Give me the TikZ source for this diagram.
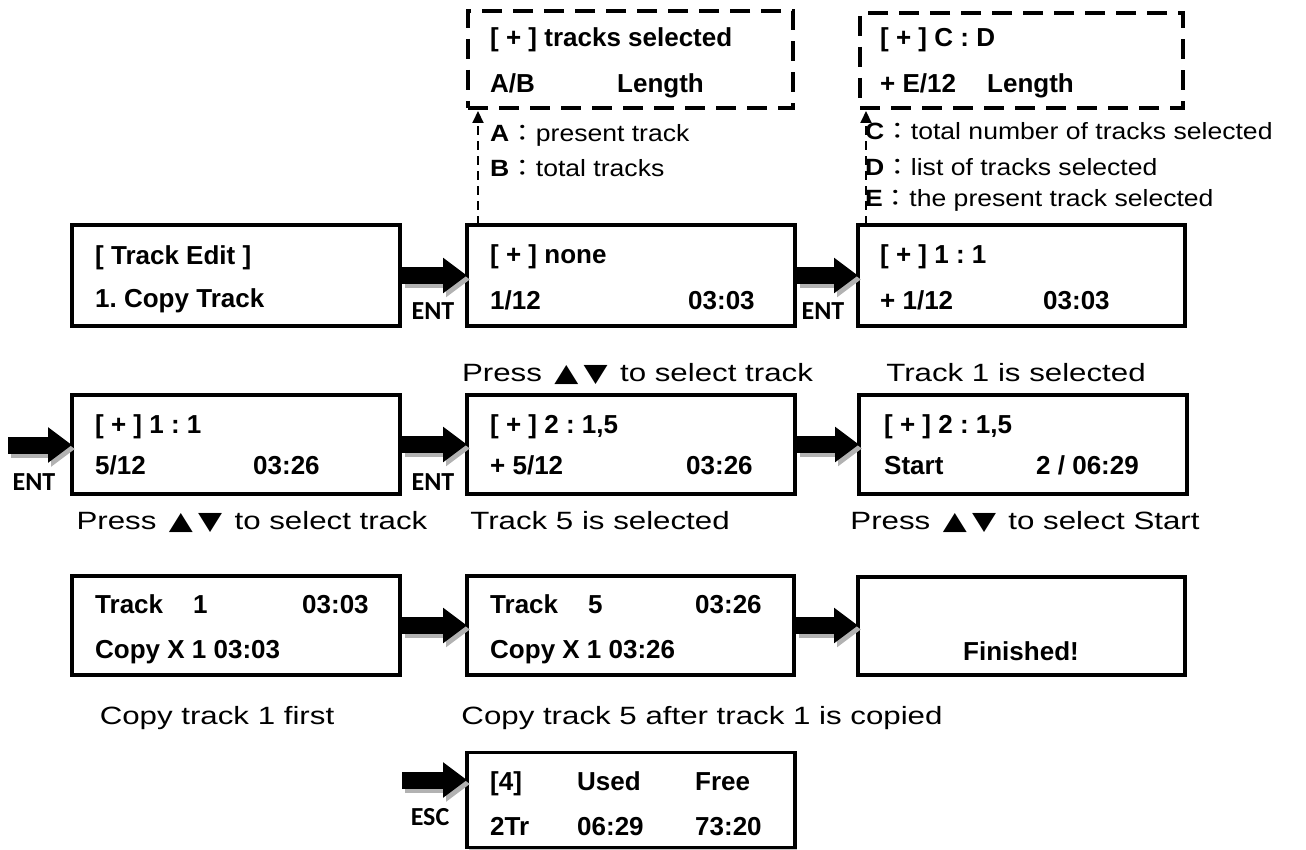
\documentclass[tikz,border=0pt]{standalone}
\usepackage{fontspec}
\usepackage{graphicx}
\setmainfont{Liberation Sans}
\newfontfamily\calib{Carlito}
\newfontfamily\sym{DejaVu Sans}
\newfontfamily\cjk{Noto Sans CJK TC}
\usetikzlibrary{arrows.meta,calc,shadows}
\frenchspacing
\newcommand\updn{\hspace{3pt} {\sym ▲}\,{\sym ▼} \hspace{3pt}}
\newcommand\fcolon{{\cjk ：}}
\newcommand\wide[1]{\scalebox{1.25}[1]{#1}}
\newcommand\wider[1]{\scalebox{1.13}[1]{#1}}
\newcommand\blockar[2]{%
  \draw[bshadow] ($(#1)+(3,4)$) -- ($(#2)+(3,4)$);
  \draw[barr] (#1) -- (#2);}
\tikzset{
  lcd/.style={draw, fill=white, line width=3.5pt, inner sep=0pt, outer sep=0pt,
    drop shadow={shadow xshift=2pt, shadow yshift=-2pt, fill=black!22, opacity=1}},
  dbox/.style={draw, line width=3.5pt, dash pattern=on 20pt off 11pt, inner sep=0pt, outer sep=0pt},
  bt/.style={anchor=base west, inner sep=0pt, font=\fontsize{26}{30}\selectfont\bfseries},
  btc/.style={anchor=base, inner sep=0pt, font=\fontsize{26}{30}\selectfont\bfseries},
  keyl/.style={inner sep=0pt, font=\fontsize{26}{30}\selectfont\calib\bfseries},
  capt/.style={anchor=base, inner sep=0pt, font=\fontsize{25}{30}\selectfont},
  ann/.style={anchor=base west, inner sep=0pt, font=\fontsize{23.5}{28}\selectfont},
  barr/.style={line width=17pt, -{Triangle[length=24pt,width=34pt]}},
  bshadow/.style={barr, draw=black!30},
  dasharr/.style={line width=2pt, dash pattern=on 9pt off 6pt, -{Triangle[length=12pt,width=11pt]}}
}
\begin{document}
\begin{tikzpicture}[x=1pt,y=-1pt]
\useasboundingbox (0,0) rectangle (1306,850);

% dashed info boxes
\node[dbox, minimum width=325pt, minimum height=97pt] (d1) at (630.5,59.5) {};
\node[dbox, minimum width=323pt, minimum height=95pt] (d2) at (1021.5,60.5) {};
\node[bt] (d1a) at (490,47) {[ + ] tracks selected};
\node[bt] (d1b) at (490,93) {A/B};
\node[bt] (d1c) at (617,93) {Length};
\node[bt] (d2a) at (880,47) {[ + ] C : D};
\node[bt] (d2b) at (880,93) {+ E/12};
\node[bt] (d2c) at (987,93) {Length};

% annotations
\node[ann] (aA) at (490,142) {\wider{\textbf{A}\fcolon present track}};
\node[ann] (aB) at (490,177) {\wider{\textbf{B}\fcolon total tracks}};
\node[ann] (aC) at (865,140) {\wider{\textbf{C}\fcolon total number of tracks selected}};
\node[ann] (aD) at (865,176) {\wider{\textbf{D}\fcolon list of tracks selected}};
\node[ann] (aE) at (865,207) {\wider{\textbf{E}\fcolon the present track selected}};

% row 1
\node[lcd, minimum width=328pt, minimum height=101pt] (b11) at (236,275.5) {};
\node[lcd, minimum width=328pt, minimum height=101pt] (b12) at (631,275.5) {};
\node[lcd, minimum width=327pt, minimum height=101pt] (b13) at (1021.5,275.5) {};
\node[bt] (t11a) at (95,265) {[ Track Edit ]};
\node[bt] (t11b) at (95,308) {1. Copy Track};
\node[bt] (t12a) at (490,264) {[ + ] none};
\node[bt] (t12b) at (490,309) {1/12};
\node[bt] (t12c) at (688,309) {03:03};
\node[bt] (t13a) at (880,264) {[ + ] 1 : 1};
\node[bt] (t13b) at (880,309) {+ 1/12};
\node[bt] (t13c) at (1043,309) {03:03};

\coordinate (s11) at ($(b11.east)+(2,0)$);
\coordinate (s12) at ($(b12.east)+(2,0)$);
\blockar{s11}{b12.west}
\blockar{s12}{b13.west}
\node[keyl] (k11) at (433,311) {ENT};
\node[keyl] (k12) at (823,311) {ENT};

% dashed connectors
\coordinate (x1) at (478,0);
\coordinate (x2) at (866,0);
\draw[dasharr] (b12.north -| x1) -- ($(d1.south -| x1)+(0,3)$);
\draw[dasharr] (b13.north -| x2) -- ($(d2.south -| x2)+(0,3)$);

% captions row 1
\node[capt] (c11) at (637.5,381) {\wide{Press\updn to select track}};
\node[capt] (c12) at (1016,381) {\wide{Track 1 is selected}};

% row 2
\node[lcd, minimum width=328pt, minimum height=99pt] (b21) at (236,444.5) {};
\node[lcd, minimum width=328pt, minimum height=99pt] (b22) at (631,444.5) {};
\node[lcd, minimum width=328pt, minimum height=99pt] (b23) at (1023,444.5) {};
\node[bt] (t21a) at (95,433) {[ + ] 1 : 1};
\node[bt] (t21b) at (95,474) {5/12};
\node[bt] (t21c) at (253,474) {03:26};
\node[bt] (t22a) at (490,433) {[ + ] 2 : 1,5};
\node[bt] (t22b) at (490,474) {+ 5/12};
\node[bt] (t22c) at (686,474) {03:26};
\node[bt] (t23a) at (884,433) {[ + ] 2 : 1,5};
\node[bt] (t23b) at (884,474) {Start};
\node[bt] (t23c) at (1036,474) {2 / 06:29};

\coordinate (e2) at (8,445);
\coordinate (s21) at ($(b21.east)+(2,0)$);
\coordinate (s22) at ($(b22.east)+(2,0)$);
\blockar{e2}{e2 -| b21.west}
\blockar{s21}{b22.west}
\blockar{s22}{s22 -| b23.west}
\node[keyl] (k20) at (34,482) {ENT};
\node[keyl] (k21) at (433,482) {ENT};

\node[capt] (c21) at (252,529) {\wide{Press\updn to select track}};
\node[capt] (c22) at (600,529) {\wide{Track 5 is selected}};
\node[capt] (c23) at (1025,529) {\wide{Press\updn to select Start}};

% row 3
\node[lcd, minimum width=328pt, minimum height=99pt] (b31) at (236,625.5) {};
\node[lcd, minimum width=327pt, minimum height=99pt] (b32) at (630.5,625.5) {};
\node[lcd, minimum width=327pt, minimum height=98pt] (b33) at (1021.5,626) {};
\node[bt] (t31a) at (95,613) {Track};
\node[bt] (t31b) at (193,613) {1};
\node[bt] (t31c) at (302,613) {03:03};
\node[bt] (t31d) at (95,658) {Copy X 1 03:03};
\node[bt] (t32a) at (490,613) {Track};
\node[bt] (t32b) at (588,613) {5};
\node[bt] (t32c) at (695,613) {03:26};
\node[bt] (t32d) at (490,658) {Copy X 1 03:26};
\node[btc] (t33) at (1021,660) {Finished!};

\coordinate (s31) at ($(b31.east)+(2,0)$);
\coordinate (s32) at ($(b32.east)+(2,0)$);
\blockar{s31}{b32.west}
\blockar{s32}{s32 -| b33.west}

\node[capt] (c31) at (217,724) {\wide{Copy track 1 first}};
\node[capt] (c32) at (702,724) {\wide{Copy track 5 after track 1 is copied}};

% bottom
\node[lcd, minimum width=328pt, minimum height=95pt] (b4) at (631,800) {};
\node[bt] (t4a) at (490,790) {[4]};
\node[bt] (t4b) at (577,790) {Used};
\node[bt] (t4c) at (695,790) {Free};
\node[bt] (t4d) at (490,835) {2Tr};
\node[bt] (t4e) at (577,835) {06:29};
\node[bt] (t4f) at (695,835) {73:20};
\coordinate (e4) at (402,780);
\blockar{e4}{e4 -| b4.west}
\node[keyl] (k4) at (430,817) {ESC};
\end{tikzpicture}
\end{document}
